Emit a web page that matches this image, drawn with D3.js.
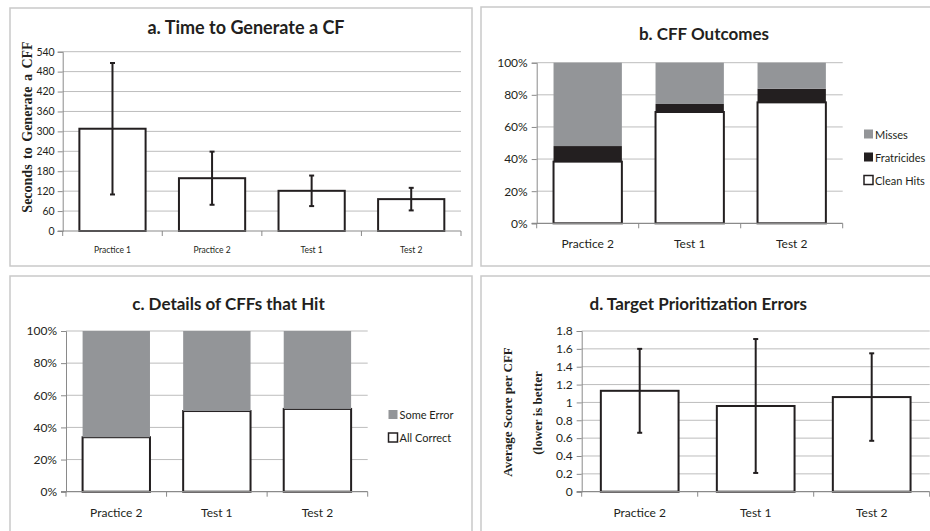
<!DOCTYPE html>
<html>
<head>
<meta charset="utf-8">
<script src="https://cdn.jsdelivr.net/npm/d3@7"></script>
<style>
  html, body { margin: 0; padding: 0; background: #fff; }
  svg { display: block; }
</style>
</head>
<body>
<svg id="chart" width="930" height="531"></svg>
<script>
// ---------- DATA ----------
const catsA = ["Practice 1", "Practice 2", "Test 1", "Test 2"];
const timeMeans = [308, 159, 121, 96];
const timeErr = [198, 80, 46, 34];
const ticksA = [0, 60, 120, 180, 240, 300, 360, 420, 480, 540];

const catsB = ["Practice 2", "Test 1", "Test 2"];
const cleanHits = [0.384, 0.693, 0.753];
const fratricides = [0.097, 0.050, 0.085];
const misses = [0.519, 0.257, 0.162];
const seriesB = ["Misses", "Fratricides", "Clean Hits"];

const catsC = ["Practice 2", "Test 1", "Test 2"];
const allCorrect = [0.339, 0.502, 0.515];
const someError = [0.661, 0.498, 0.485];
const seriesC = ["Some Error", "All Correct"];

const ticksPct = [0, 0.2, 0.4, 0.6, 0.8, 1.0];

const catsD = ["Practice 2", "Test 1", "Test 2"];
const prioMeans = [1.13, 0.96, 1.06];
const prioErr = [0.47, 0.75, 0.49];
const ticksD = [0, 0.2, 0.4, 0.6, 0.8, 1.0, 1.2, 1.4, 1.6, 1.8];

// ---------- STYLE ----------
const SANS = "Lato, 'Open Sans', sans-serif";
const SERIF = "'Liberation Serif', 'Times New Roman', serif";
const C = {
  border: "#c9c9c9", grid: "#bdbdbd", axis: "#8a8a8a",
  barStroke: "#231f20", gray: "#939598", black: "#231f20", text: "#231f20"
};
const svg = d3.select("#chart");

function txt(sel, size, family) {
  return sel.style("font-family", family || SANS).style("font-size", size + "px").style("fill", C.text);
}

function panel(box) {
  svg.append("rect").attr("x", box.x).attr("y", box.y).attr("width", box.w).attr("height", box.h)
    .attr("fill", "#fff").attr("stroke", C.border).attr("stroke-width", 1.5);
}

function title(s, cx, cy, size) {
  txt(svg.append("text").attr("x", cx).attr("y", cy).attr("text-anchor", "middle")
    .attr("dominant-baseline", "central").style("font-weight", "bold").text(s), size);
}

function frame(g, x, y, cats, ticks, fmt, opts) {
  const [x0, x1] = x.range();
  const [yb] = y.range();
  g.append("g").selectAll("line").data(ticks.filter(t => t !== 0)).join("line")
    .attr("x1", x0).attr("x2", x1).attr("y1", d => y(d)).attr("y2", d => y(d))
    .attr("stroke", C.grid).attr("stroke-width", 1);
  return function axesOnTop() {
    const ya = d3.axisLeft(y).tickValues(ticks).tickSize(5).tickPadding(opts.ytickPad).tickFormat(fmt);
    const yg = g.append("g").attr("transform", `translate(${x0},0)`).call(ya);
    yg.select(".domain").attr("stroke", C.axis);
    yg.selectAll(".tick line").attr("stroke", C.axis);
    txt(yg.selectAll("text"), opts.yfs);
    g.append("line").attr("x1", x0 - 5).attr("x2", x1).attr("y1", yb).attr("y2", yb)
      .attr("stroke", C.axis).attr("stroke-width", 1.2);
    const step = x.step();
    const bounds = d3.range(cats.length + 1).map(i => x0 + i * step);
    g.append("g").selectAll("line").data(bounds).join("line")
      .attr("x1", d => d).attr("x2", d => d).attr("y1", yb).attr("y2", yb + 5)
      .attr("stroke", C.axis).attr("stroke-width", 1);
    txt(g.append("g").selectAll("text").data(cats).join("text")
      .attr("x", d => x(d) + x.bandwidth() / 2).attr("y", yb + opts.xlabDy)
      .attr("text-anchor", "middle").attr("dominant-baseline", "central")
      .text(d => d), opts.xfs);
  };
}

function errorBars(g, x, y, cats, means, errs, cap) {
  const eb = g.append("g");
  cats.forEach((c, i) => {
    const cx = x(c) + x.bandwidth() / 2;
    const hi = y(means[i] + errs[i]), lo = y(means[i] - errs[i]);
    eb.append("line").attr("x1", cx).attr("x2", cx).attr("y1", hi).attr("y2", lo)
      .attr("stroke", C.black).attr("stroke-width", 2);
    [hi, lo].forEach(yy => eb.append("line").attr("x1", cx - cap).attr("x2", cx + cap)
      .attr("y1", yy).attr("y2", yy).attr("stroke", C.black).attr("stroke-width", 2));
  });
}

function rotLabel(s, cx, cy, size, ws) {
  txt(svg.append("text").attr("transform", `translate(${cx},${cy}) rotate(-90)`)
    .attr("text-anchor", "middle").attr("dominant-baseline", "central")
    .style("font-weight", "bold").style("word-spacing", (ws || 0) + "px").text(s), size, SERIF);
}

function legend(items, fills, outlined, lx, ly, gap) {
  const lg = svg.append("g");
  items.forEach((k, i) => {
    const yy = ly + i * gap;
    lg.append("rect").attr("x", lx).attr("y", yy - 4.5).attr("width", 9).attr("height", 9)
      .attr("fill", fills[k]).attr("stroke", k === outlined ? C.black : "none").attr("stroke-width", 1.5);
    txt(lg.append("text").attr("x", lx + 11).attr("y", yy).attr("dominant-baseline", "central").text(k), 11);
  });
}

// ---------- PANEL A ----------
panel({ x: 10, y: 8, w: 462, h: 258 });
title("a. Time to Generate a CF", 246, 27, 18);
{
  const g = svg.append("g");
  const x = d3.scaleBand().domain(catsA).range([62.7, 461]).paddingInner(0.335).paddingOuter(0.1675);
  const y = d3.scaleLinear().domain([0, 540]).range([231, 51.7]);
  const top = frame(g, x, y, catsA, ticksA, d3.format("d"), { yfs: 10.5, xfs: 8.5, xlabDy: 19, ytickPad: 3 });
  g.append("g").selectAll("rect").data(timeMeans).join("rect")
    .attr("x", (d, i) => x(catsA[i])).attr("width", x.bandwidth())
    .attr("y", d => y(d)).attr("height", d => y(0) - y(d))
    .attr("fill", "#fff").attr("stroke", C.barStroke).attr("stroke-width", 2);
  top();
  errorBars(g, x, y, catsA, timeMeans, timeErr, 2.5);
  rotLabel("Seconds to Generate a CFF", 27, 127, 14, 2);
}

// ---------- PANEL B ----------
panel({ x: 481, y: 7, w: 460, h: 259 });
title("b. CFF Outcomes", 704, 33, 17);
{
  const g = svg.append("g");
  const x = d3.scaleBand().domain(catsB).range([536.7, 842.7]).paddingInner(0.33).paddingOuter(0.165);
  const y = d3.scaleLinear().domain([0, 1]).range([223.3, 62.7]);
  const top = frame(g, x, y, catsB, ticksPct, d3.format(".0%"), { yfs: 12, xfs: 12, xlabDy: 20, ytickPad: 4 });
  const rows = catsB.map((c, i) => ({ cat: c, "Clean Hits": cleanHits[i], "Fratricides": fratricides[i], "Misses": misses[i] }));
  const stack = d3.stack().keys(["Clean Hits", "Fratricides", "Misses"])(rows);
  const fills = { "Clean Hits": "#fff", "Fratricides": C.black, "Misses": C.gray };
  stack.forEach(s => {
    g.append("g").selectAll("rect").data(s).join("rect")
      .attr("x", d => x(d.data.cat)).attr("width", x.bandwidth())
      .attr("y", d => y(d[1])).attr("height", d => y(d[0]) - y(d[1]))
      .attr("fill", fills[s.key])
      .attr("stroke", s.key === "Clean Hits" ? C.barStroke : "none")
      .attr("stroke-width", 2);
  });
  top();
  legend(seriesB, fills, "Clean Hits", 864, 134, 23);
}

// ---------- PANEL C ----------
panel({ x: 10, y: 276, w: 462, h: 262 });
title("c. Details of CFFs that Hit", 228.5, 303, 17);
{
  const g = svg.append("g");
  const x = d3.scaleBand().domain(catsC).range([66, 367.7]).paddingInner(0.33).paddingOuter(0.165);
  const y = d3.scaleLinear().domain([0, 1]).range([491.7, 331]);
  const top = frame(g, x, y, catsC, ticksPct, d3.format(".0%"), { yfs: 12, xfs: 12, xlabDy: 21, ytickPad: 4 });
  const rows = catsC.map((c, i) => ({ cat: c, "All Correct": allCorrect[i], "Some Error": someError[i] }));
  const stack = d3.stack().keys(["All Correct", "Some Error"])(rows);
  const fills = { "All Correct": "#fff", "Some Error": C.gray };
  stack.forEach(s => {
    g.append("g").selectAll("rect").data(s).join("rect")
      .attr("x", d => x(d.data.cat)).attr("width", x.bandwidth())
      .attr("y", d => y(d[1])).attr("height", d => y(d[0]) - y(d[1]))
      .attr("fill", fills[s.key])
      .attr("stroke", s.key === "All Correct" ? C.barStroke : "none")
      .attr("stroke-width", 2);
  });
  top();
  legend(seriesC, fills, "All Correct", 388.5, 414.5, 23);
}

// ---------- PANEL D ----------
panel({ x: 481, y: 276, w: 460, h: 262 });
title("d. Target Prioritization Errors", 698.3, 303, 17);
{
  const g = svg.append("g");
  const x = d3.scaleBand().domain(catsD).range([581.7, 929.7]).paddingInner(0.33).paddingOuter(0.165);
  const y = d3.scaleLinear().domain([0, 1.8]).range([491.7, 331]);
  const top = frame(g, x, y, catsD, ticksD, d => d3.format("~g")(d), { yfs: 12, xfs: 12, xlabDy: 21, ytickPad: 4 });
  g.append("g").selectAll("rect").data(prioMeans).join("rect")
    .attr("x", (d, i) => x(catsD[i])).attr("width", x.bandwidth())
    .attr("y", d => y(d)).attr("height", d => y(0) - y(d))
    .attr("fill", "#fff").attr("stroke", C.barStroke).attr("stroke-width", 2);
  top();
  errorBars(g, x, y, catsD, prioMeans, prioErr, 2.5);
  rotLabel("Average Score per CFF", 507, 412, 13);
  rotLabel("(lower is better", 537, 413, 13);
}
</script>
</body>
</html>
